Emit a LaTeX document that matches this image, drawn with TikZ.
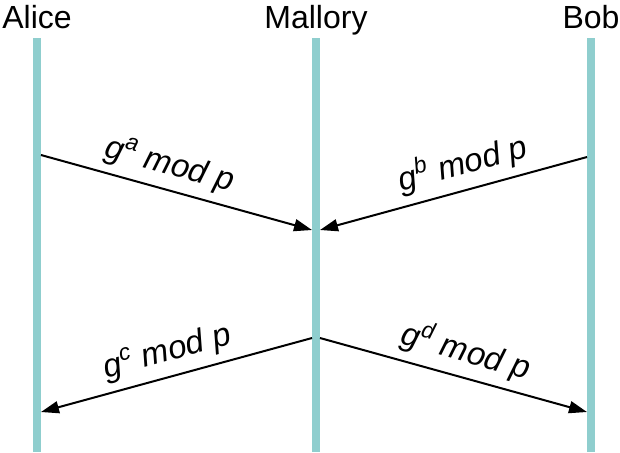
\documentclass[tikz,border=0pt]{standalone}
\usepackage{fontspec}
\setmainfont{Liberation Sans}
\usetikzlibrary{arrows.meta, positioning}
\definecolor{mylightteal1}{RGB}{143, 206, 206}

\begin{document}
\begin{tikzpicture}[>={Triangle[length=9pt, width=6pt]}, x=0.5pt, y=-0.5pt,
    msg/.style={->, line width=1pt},
    lbl/.style={sloped, above=0.5pt, font=\fontsize{16.4}{19}\selectfont\itshape}]
\useasboundingbox (0,0) rectangle (620,452);
% Parties
\foreach \name/\x in {Alice/37, Mallory/316, Bob/591} {
    \node[font=\fontsize{16}{19}\selectfont, anchor=base] (\name) at (\x, 28) {\name};
    \draw[mylightteal1, line width=4pt] (\x, 38) -- (\x, 452);
}

% End points on the lines
\coordinate (a1) at (41,155);
\coordinate (a2) at (41,412);
\coordinate (m1l) at (312,230);
\coordinate (m1r) at (320,230);
\coordinate (m2l) at (312,338);
\coordinate (m2r) at (320,338);
\coordinate (b1) at (587,157);
\coordinate (b2) at (587,412);

% Messages
\draw[msg] (a1) -- node[lbl, pos=0.45] {g\textsuperscript{a} mod p} (m1l);
\draw[msg] (b1) -- node[lbl, pos=0.44] {g\textsuperscript{b} mod p} (m1r);
\draw[msg] (m2l) -- node[lbl, pos=0.51] {g\textsuperscript{c} mod p} (a2);
\draw[msg] (m2r) -- node[lbl, pos=0.52] {g\textsuperscript{d} mod p} (b2);
\end{tikzpicture}
\end{document}
